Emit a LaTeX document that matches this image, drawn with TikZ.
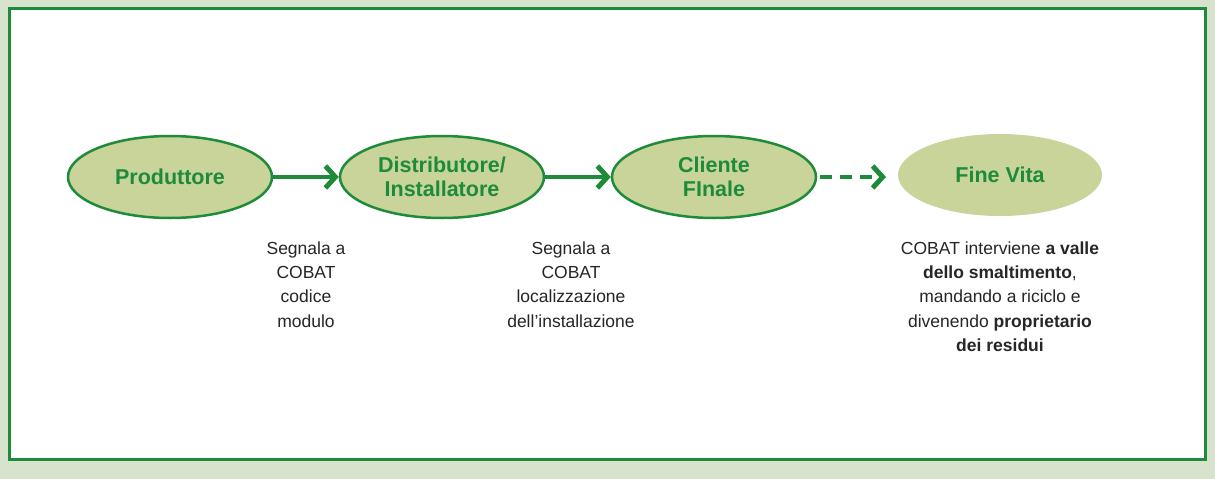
\documentclass[tikz,border=0pt]{standalone}
\usepackage{fontspec}
\setmainfont{Liberation Sans}
\usetikzlibrary{shapes.geometric,arrows.meta}
\definecolor{bgc}{HTML}{D7E3CC}
\definecolor{gr}{HTML}{1E8B3A}
\definecolor{elf}{HTML}{C8D49A}
\tikzset{
  stage/.style={ellipse,minimum width=204pt,minimum height=82pt,inner sep=0pt,fill=elf,draw=gr,line width=2.5pt,
    text=gr,font=\fontsize{21.5}{24}\selectfont\bfseries,align=center},
  note/.style={align=center,font=\fontsize{17.5}{24.3}\selectfont,text=black!85,anchor=north},
  flow/.style={draw=gr,line width=4.5pt,-{Straight Barb[length=10pt,width=22pt,line width=5pt]}},
}
\begin{document}
\begin{tikzpicture}[x=1pt,y=-1pt]
\useasboundingbox (0,0) rectangle (1215,479);
\fill[bgc] (0,0) rectangle (1215,479);
\draw[gr,fill=white,line width=3pt] (9.5,8.5) rectangle (1205.5,459.5);
\node[stage] (p) at (170,177) {Produttore};
\node[stage] (d) at (442,177) {Distributore/\\Installatore};
\node[stage] (c) at (714,177) {Cliente\\FInale};
\node[stage,draw=none] (f) at (1000,175) {Fine Vita};
\coordinate (cs) at (820,177);
\coordinate (fe) at (886,177);
\draw[flow] (p) -- (d);
\draw[flow] (d) -- (c);
\draw[flow,dash pattern=on 12pt off 8pt] (cs) -- (fe);
\node[note] (n1) at (306,238) {Segnala a\\COBAT\\codice\\modulo};
\node[note] (n2) at (571,238) {Segnala a\\COBAT\\localizzazione\\dell'installazione};
\node[note] (n3) at (1000,238) {COBAT interviene \textbf{a valle}\\\textbf{dello smaltimento},\\mandando a riciclo e\\divenendo \textbf{proprietario}\\\textbf{dei residui}};
\end{tikzpicture}
\end{document}
